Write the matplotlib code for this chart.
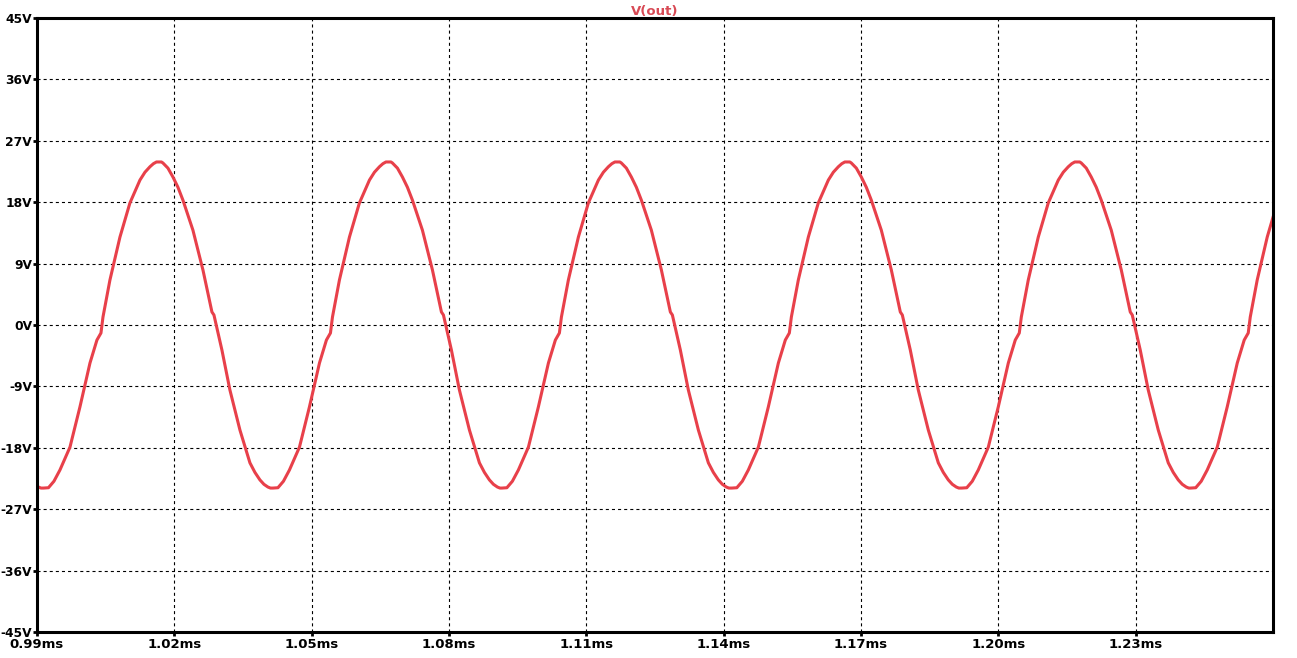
import matplotlib
matplotlib.use("Agg")
import matplotlib.pyplot as plt
import numpy as np

cycle_t_us = [0.0, 1.09, 2.29, 3.60, 5.79, 7.97, 10.16, 11.68, 12.56, 13.00,
              14.52, 16.71, 18.89, 21.08, 22.17, 23.26, 24.02, 24.68, 25.77,
              26.10, 27.19, 28.28, 29.37, 30.47, 32.65, 34.84, 36.80, 37.24,
              38.98, 40.73, 42.92, 45.10, 46.19, 47.28, 48.16, 49.03, 49.58]
cycle_v = [-23.9, -23.85, -22.9, -21.25, -17.9, -12.0, -5.57, -2.2, -1.17, 1.17,
           6.6, 12.9, 17.9, 21.25, 22.4, 23.2, 23.65, 23.9, 23.9,
           23.75, 23.0, 21.7, 20.2, 18.3, 13.9, 8.06, 1.91, 1.47,
           -3.66, -9.53, -15.4, -20.2, -21.6, -22.7, -23.35, -23.75, -23.9]
# trough times of each cycle (ms)
trough_ms = [0.94130, 0.99142, 1.04155, 1.09156, 1.14179, 1.19202, 1.24203]

t_start, t_end = 0.99, 1.26
y_ticks = [-45, -36, -27, -18, -9, 0, 9, 18, 27, 36, 45]
x_ticks = [0.99, 1.02, 1.05, 1.08, 1.11, 1.14, 1.17, 1.20, 1.23]
x_labels = ["0.99ms", "1.02ms", "1.05ms", "1.08ms", "1.11ms", "1.14ms",
            "1.17ms", "1.20ms", "1.23ms"]

# stitch the cycles together
t = []
v = []
for t0 in trough_ms:
    for dt, val in zip(cycle_t_us, cycle_v):
        t.append(t0 + dt / 1000.0)
        v.append(val)
t = np.array(t)
v = np.array(v)
keep = (t >= t_start - 0.002) & (t <= t_end + 0.002)

plt.rcParams['lines.scale_dashes'] = False
fig = plt.figure(figsize=(12.97, 6.58), dpi=100)
ax = fig.add_axes([0.0285, 0.0395, 0.9530, 0.9331])

ax.plot(t[keep], v[keep], color='#e8404a', lw=2.2, solid_joinstyle='round')

ax.set_xlim(t_start, t_end)
ax.set_ylim(-45, 45)
ax.set_yticks(y_ticks)
ax.set_yticklabels([f"{y}V" for y in y_ticks])
ax.set_xticks(x_ticks)
ax.set_xticklabels(x_labels)

for x in x_ticks[1:]:
    ax.axvline(x, color='black', lw=0.8, ls=(0, (2.2, 2.2)), zorder=0)
for y in y_ticks[1:-1]:
    ax.axhline(y, color='black', lw=0.8, ls=(0, (2.2, 2.2)), zorder=0)

for s in ax.spines.values():
    s.set_linewidth(2.2)
    s.set_color('black')

ax.tick_params(axis='both', direction='out', length=3, width=2, color='black',
               labelsize=9.5, pad=1)
ax.tick_params(axis='y', labelsize=8.8, pad=0.5)
for lab in ax.get_xticklabels() + ax.get_yticklabels():
    lab.set_fontweight('bold')

ax.set_title("V(out)", color='#d84a55', fontsize=9.5, fontweight='bold', pad=2)

fig.savefig("out.png", dpi=100)
